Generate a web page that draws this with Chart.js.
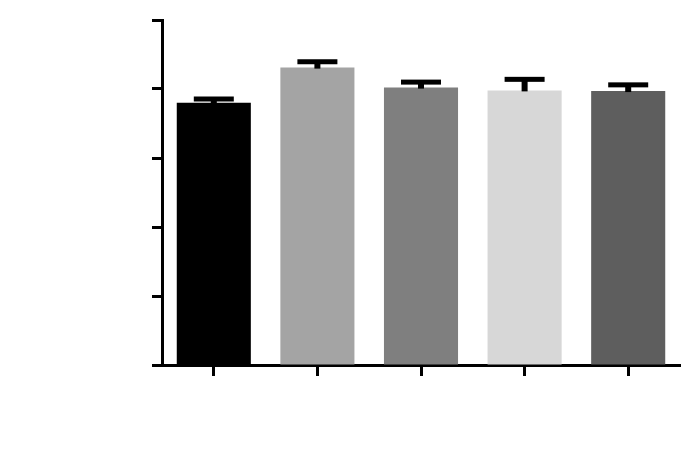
<!DOCTYPE html>
<html>
<head>
<meta charset="utf-8">
<script src="https://cdn.jsdelivr.net/npm/chart.js@4"></script>
<style>
  body { margin: 0; background: #fff; }
</style>
</head>
<body>
<canvas id="chart" width="700" height="470"></canvas>
<script>
// values (axis 0-100, no labels shown)
const groups = ['G1', 'G2', 'G3', 'G4', 'G5'];
const means = [76.0, 86.2, 80.4, 79.6, 79.4];
const errors = [1.1, 1.7, 1.6, 3.2, 1.8];
const yTicks = [0, 20, 40, 60, 80, 100];

const barColors = ['#000000', '#a4a4a4', '#7f7f7f', '#d7d7d7', '#5e5e5e'];

// draw the upward error bars (stem + cap) on top of the bars
const errorBars = {
  id: 'errorBars',
  afterDatasetsDraw(chart) {
    const ctx = chart.ctx;
    const yScale = chart.scales.y;
    const meta = chart.getDatasetMeta(0);
    ctx.save();
    ctx.fillStyle = '#000';
    meta.data.forEach((bar, i) => {
      const top = yScale.getPixelForValue(means[i] + errors[i]);
      const base = yScale.getPixelForValue(means[i]);
      ctx.fillRect(bar.x - 3, top, 6, base - top + 1);
      ctx.fillRect(bar.x - 20, top - 2.5, 40, 5);
    });
    ctx.restore();
  }
};

const ctx = document.getElementById('chart').getContext('2d');
new Chart(ctx, {
  type: 'bar',
  data: {
    labels: groups,
    datasets: [{
      data: means,
      backgroundColor: barColors,
      borderWidth: 0,
      barPercentage: 0.715,
      categoryPercentage: 1
    }]
  },
  options: {
    responsive: false,
    animation: false,
    layout: { padding: { left: 152, right: 20, top: 20, bottom: 94 } },
    plugins: {
      legend: { display: false },
      tooltip: { enabled: false }
    },
    scales: {
      x: {
        z: 1,
        grid: {
          offset: false,
          drawOnChartArea: false,
          drawTicks: true,
          tickLength: 11,
          tickWidth: 3,
          tickColor: '#000'
        },
        border: { display: true, color: '#000', width: 3 },
        ticks: { display: false }
      },
      y: {
        min: 0,
        max: 100,
        afterBuildTicks(axis) {
          axis.ticks = yTicks.map(v => ({ value: v }));
        },
        grid: {
          drawOnChartArea: false,
          drawTicks: true,
          tickLength: 10,
          tickWidth: 3,
          tickColor: '#000'
        },
        border: { display: true, color: '#000', width: 3 },
        ticks: { display: false }
      }
    }
  },
  plugins: [errorBars]
});
</script>
</body>
</html>
